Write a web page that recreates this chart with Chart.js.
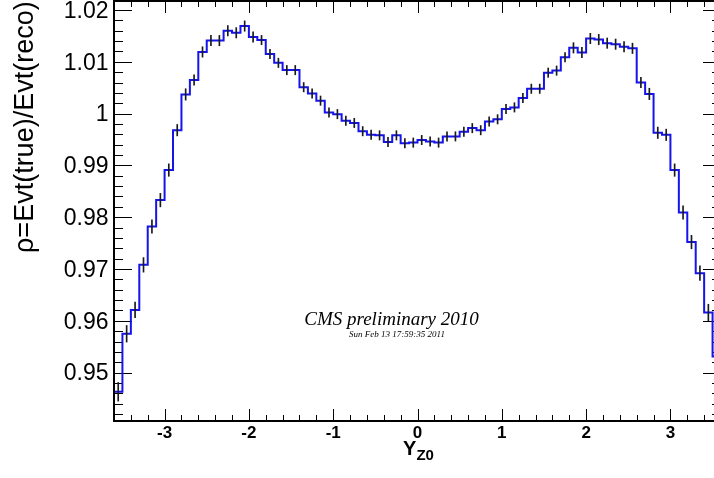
<!DOCTYPE html>
<html>
<head>
<meta charset="utf-8">
<script src="https://cdn.jsdelivr.net/npm/chart.js@4.4.1/dist/chart.umd.min.js"></script>
<style>
  html, body { margin: 0; padding: 0; background: #fff; overflow: hidden; }
  #wrap { position: relative; width: 722px; height: 478px; }
</style>
</head>
<body>
<div id="wrap"><canvas id="rhoChart"></canvas></div>
<script>
// histogram: 72 bins of width 0.1 from -3.6 to 3.6
const binLow = -3.6;
const binWidth = 0.1;

// rho per bin
const rho = [
  0.9463, 0.9575, 0.9621, 0.9708, 0.9782, 0.9833, 0.9891, 0.9968, 1.0037, 1.0065,
  1.0119, 1.0141, 1.0141, 1.0160, 1.0156, 1.0169, 1.0148, 1.0142, 1.0115, 1.0098,
  1.0084, 1.0084, 1.0051, 1.0039, 1.0025, 1.0002, 0.9999, 0.9986, 0.9982, 0.9966,
  0.9959, 0.9958, 0.9945, 0.9958, 0.9943, 0.9944, 0.9949, 0.9946, 0.9944, 0.9956,
  0.9956, 0.9965, 0.9972, 0.9968, 0.9985, 0.9989, 1.0009, 1.0012, 1.0030, 1.0048,
  1.0048, 1.0079, 1.0083, 1.0109, 1.0127, 1.0118, 1.0145, 1.0143, 1.0136, 1.0134,
  1.0129, 1.0126, 1.0060, 1.0038, 0.9963, 0.9959, 0.9891, 0.9809, 0.9752, 0.9692,
  0.9616, 0.9531
];

// statistical error per bin
const rhoErr = [
  0.0018, 0.0016, 0.0015, 0.0014, 0.0013, 0.0013, 0.0012, 0.0011, 0.0011, 0.0010,
  0.0010, 0.0010, 0.0010, 0.0010, 0.0010, 0.0010, 0.0010, 0.0009, 0.0009, 0.0009,
  0.0009, 0.0009, 0.0009, 0.0009, 0.0009, 0.0009, 0.0009, 0.0009, 0.0009, 0.0009,
  0.0009, 0.0009, 0.0009, 0.0009, 0.0009, 0.0009, 0.0009, 0.0009, 0.0009, 0.0009,
  0.0009, 0.0009, 0.0009, 0.0009, 0.0009, 0.0009, 0.0009, 0.0009, 0.0009, 0.0009,
  0.0009, 0.0009, 0.0009, 0.0009, 0.0010, 0.0010, 0.0010, 0.0010, 0.0010, 0.0010,
  0.0010, 0.0010, 0.0010, 0.0011, 0.0011, 0.0011, 0.0012, 0.0013, 0.0013, 0.0014,
  0.0016, 0.0018
];

const xTicks = [-3, -2, -1, 0, 1, 2, 3];
const yTicks = [0.95, 0.96, 0.97, 0.98, 0.99, 1, 1.01, 1.02];

const sans = '"Liberation Sans", Arial, Helvetica, sans-serif';
const serif = '"Liberation Serif", "Times New Roman", serif';

// step outline: each low edge carries its bin's value, plus the last upper edge
const stepPoints = rho.map((v, i) => ({ x: binLow + i * binWidth, y: v }));
stepPoints.push({ x: binLow + rho.length * binWidth, y: rho[rho.length - 1] });

// error bars as thin floating bars at the bin centres
const errBars = rho.map((v, i) => ({
  x: binLow + (i + 0.5) * binWidth,
  y: [v - rhoErr[i], v + rhoErr[i]]
}));

// ROOT-like frame: inward ticks on all sides, labels, titles
const rootStyle = {
  id: 'rootStyle',
  beforeDatasetsDraw(chart) {
    const { ctx, chartArea: a, scales: { x, y } } = chart;
    ctx.save();
    ctx.strokeStyle = '#000';
    ctx.lineWidth = 1;
    ctx.beginPath();
    for (let k = -18; k <= 18; k++) {
      const px = Math.round(x.getPixelForValue(k * 0.2)) + 0.5;
      const len = k % 5 === 0 ? 12 : 6;
      ctx.moveTo(px, a.bottom); ctx.lineTo(px, a.bottom - len);
      ctx.moveTo(px, a.top); ctx.lineTo(px, a.top + len);
    }
    for (let k = 471; k <= 510; k++) {
      const py = Math.round(y.getPixelForValue(k * 0.002)) + 0.5;
      const len = k % 5 === 0 ? 18 : 9;
      ctx.moveTo(a.left, py); ctx.lineTo(a.left + len, py);
      ctx.moveTo(a.right, py); ctx.lineTo(a.right - len, py);
    }
    ctx.stroke();
    ctx.restore();
  },
  afterDraw(chart) {
    const { ctx, chartArea: a, scales: { x, y } } = chart;
    ctx.save();
    // frame (right side falls outside the window)
    ctx.strokeStyle = '#000';
    ctx.lineWidth = 2;
    ctx.beginPath();
    ctx.moveTo(a.right, a.top); ctx.lineTo(a.left, a.top);
    ctx.lineTo(a.left, a.bottom); ctx.lineTo(a.right, a.bottom);
    ctx.stroke();

    // y tick labels
    ctx.fillStyle = '#000';
    ctx.font = '23px ' + sans;
    ctx.textAlign = 'right';
    ctx.textBaseline = 'middle';
    yTicks.forEach(v => {
      ctx.fillText(String(v), 108.5, y.getPixelForValue(v) + 1.5);
    });

    // y title
    ctx.save();
    ctx.translate(33, 253);
    ctx.rotate(-Math.PI / 2);
    ctx.textAlign = 'left';
    ctx.textBaseline = 'alphabetic';
    ctx.font = '27px ' + sans;
    ctx.fillText('\u03C1=Evt(true)/Evt(reco)', 0, 0);
    ctx.restore();

    // x title with subscript
    ctx.textBaseline = 'alphabetic';
    ctx.textAlign = 'left';
    ctx.font = 'bold 20px ' + sans;
    const yw = ctx.measureText('Y').width;
    ctx.font = 'bold 15px ' + sans;
    const zw = ctx.measureText('Z0').width;
    const tx = x.getPixelForValue(0) - (yw + zw) / 2 + 1;
    ctx.font = 'bold 20px ' + sans;
    ctx.fillText('Y', tx, 455);
    ctx.font = 'bold 15px ' + sans;
    ctx.fillText('Z0', tx + yw, 460);

    // label
    ctx.textAlign = 'center';
    ctx.font = 'italic 19px ' + serif;
    ctx.fillText('CMS preliminary 2010', 391.5, 325);
    ctx.font = 'italic 9px ' + serif;
    ctx.fillText('Sun Feb 13 17:59:35 2011', 397, 337);
    ctx.restore();
  }
};

new Chart(document.getElementById('rhoChart'), {
  type: 'bar',
  data: {
    datasets: [
      {
        type: 'bar',
        data: errBars,
        backgroundColor: '#1a1a1a',
        barThickness: 1,
        order: 0
      },
      {
        type: 'line',
        data: stepPoints,
        stepped: 'before',
        borderColor: 'rgb(20, 20, 235)',
        borderWidth: 2,
        pointRadius: 0,
        fill: false,
        order: 1
      }
    ]
  },
  options: {
    responsive: true,
    maintainAspectRatio: false,
    animation: false,
    layout: { padding: { top: 1, right: 1, left: 0, bottom: 0 } },
    plugins: { legend: { display: false }, tooltip: { enabled: false } },
    scales: {
      x: {
        type: 'linear',
        min: -3.6,
        max: 3.6,
        offset: false,
        grid: { display: false, drawTicks: false },
        border: { display: false },
        afterBuildTicks: s => { s.ticks = xTicks.map(v => ({ value: v })); },
        afterFit: s => { s.height = 57; },
        ticks: {
          color: '#000',
          padding: 2,
          maxRotation: 0,
          autoSkip: false,
          font: { family: sans, size: 17, weight: 'bold' }
        }
      },
      y: {
        type: 'linear',
        min: 0.94066,
        max: 1.02174,
        grid: { display: false, drawTicks: false },
        border: { display: false },
        afterBuildTicks: s => { s.ticks = yTicks.map(v => ({ value: v })); },
        afterFit: s => { s.width = 114; },
        ticks: { display: false }
      }
    }
  },
  plugins: [rootStyle]
});
</script>
</body>
</html>
